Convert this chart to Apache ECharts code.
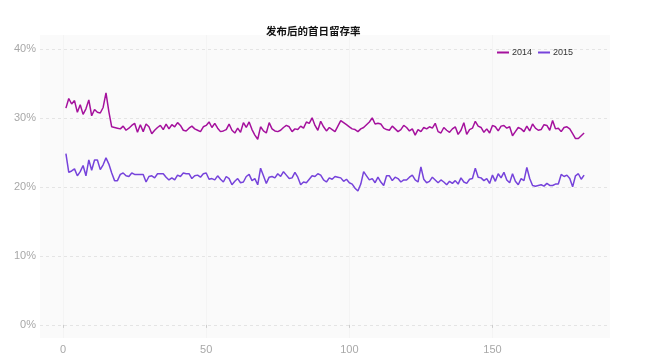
<!DOCTYPE html>
<html><head><meta charset="utf-8">
<script src="https://cdn.jsdelivr.net/npm/echarts@6/dist/echarts.min.js"></script>
<style>html,body{margin:0;padding:0;background:#fff}#c{width:664px;height:364px}</style>
</head><body><div id="c"></div>
<script>
var title = '发布后的首日留存率';
var seriesNames = ['2014', '2015'];
var yTicks = [0, 10, 20, 30, 40];
var xTicks = [0, 50, 100, 150];
var r2014 = [
31.4,32.8,32.0,32.5,30.8,31.9,30.5,31.3,32.6,30.3,
31.2,30.8,30.7,31.5,33.6,30.9,28.7,28.6,28.5,28.4,
28.8,28.2,28.5,28.9,29.2,27.9,29.0,28.0,29.1,28.7,
27.7,28.2,28.6,28.9,28.3,29.1,28.4,29.0,28.7,29.3,
28.9,28.2,28.1,28.5,28.8,28.4,28.2,28.0,28.7,28.9,
29.4,28.6,29.2,28.5,28.0,28.1,28.3,29.1,28.2,27.8,
28.5,27.9,29.3,28.6,29.4,28.3,27.5,26.9,28.7,28.1,
27.8,29.3,28.4,28.1,28.0,28.2,28.6,28.9,28.7,28.0,
28.4,28.3,28.8,28.5,29.4,29.2,30.0,28.9,28.2,29.5,
28.7,28.1,28.6,28.3,28.0,28.8,29.6,29.3,29.0,28.7,
28.4,28.3,28.0,28.4,28.6,29.0,29.4,30.0,29.1,29.2,
29.1,28.5,28.3,28.2,28.8,28.4,28.0,28.3,28.9,28.6,
28.1,28.4,27.5,28.3,28.0,28.6,28.4,28.7,28.5,29.2,
28.0,27.8,28.6,28.2,27.9,28.4,28.7,27.6,28.2,29.3,
27.6,28.3,28.5,29.5,28.8,28.6,27.9,28.4,27.8,28.9,
28.7,28.1,28.8,28.9,28.5,28.7,27.4,28.0,28.6,28.4,
28.0,28.8,28.1,29.1,28.5,28.2,28.3,29.0,28.9,28.2,
29.6,28.4,28.5,28.0,28.6,28.7,28.4,27.7,27.0,27.0,
27.4,27.8
];
var r2015 = [
24.8,22.1,22.3,22.6,21.6,22.2,23.1,21.6,23.9,22.4,
23.9,23.9,22.5,23.2,24.2,23.3,22.0,20.9,20.9,21.8,
22.0,21.6,21.5,22.0,21.8,21.8,21.8,21.8,20.7,21.5,
21.6,21.3,21.9,21.9,21.9,21.4,21.0,21.3,21.0,21.7,
21.5,22.0,21.9,21.9,21.2,21.6,21.7,21.4,21.9,22.0,
21.1,21.2,21.0,21.6,21.1,20.7,21.5,21.2,20.3,20.8,
21.2,20.6,20.7,21.5,21.8,20.9,21.2,20.3,22.7,21.6,
20.5,21.4,21.5,21.3,21.9,21.5,22.2,21.7,21.2,21.3,
22.1,21.4,20.3,20.7,20.6,21.1,21.6,21.5,21.9,21.7,
21.0,20.7,21.3,21.1,21.5,21.4,21.3,20.8,21.1,20.6,
20.4,19.8,19.4,20.4,22.2,21.6,21.0,21.2,20.6,21.4,
20.7,20.2,21.6,21.6,20.9,21.4,21.2,20.7,21.0,21.0,
21.4,21.7,21.0,20.7,22.9,21.1,20.6,20.8,21.4,21.0,
20.6,21.0,20.7,20.3,20.8,20.5,20.9,20.4,21.3,20.7,
20.5,21.1,21.2,22.7,21.4,21.3,20.9,21.2,20.5,21.7,
20.8,21.9,21.3,22.1,21.0,20.6,21.9,20.8,20.3,21.2,
20.9,22.8,21.2,20.2,20.1,20.2,20.3,20.1,20.5,20.2,
20.2,20.4,20.4,21.8,21.5,21.7,21.2,20.0,21.6,21.9,
21.1,21.7
];
function toPairs(arr){ return arr.map(function(v,i){ return [i+1, v]; }); }
var chart = echarts.init(document.getElementById('c'));
var labelColor = '#a8a8a8';
chart.setOption({
  animation: false,
  backgroundColor: '#ffffff',
  title: { text: title, left: 261, top: 21, textStyle: { fontSize: 10.5, fontWeight: 'bold', color: '#111', fontFamily: 'Noto Sans CJK SC' } },
  legend: { data: seriesNames, left: 492, top: 43, itemWidth: 12, itemHeight: 2, itemGap: 6, icon: 'rect',
    textStyle: { fontSize: 9, color: '#333', padding: [0,0,0,-2] } },
  grid: { left: 40, right: 54, top: 35, bottom: 26, show: true, backgroundColor: '#fafafa', borderWidth: 0 },
  xAxis: { type: 'value', min: -8.05, max: 191.05,
    axisLine: { show: false },
    axisTick: { show: true, customValues: xTicks, length: 3, inside: false, lineStyle: { color: '#ccc' } },
    axisLabel: { customValues: xTicks, color: labelColor, fontSize: 11, margin: 6 },
    splitLine: { show: true, lineStyle: { color: '#f4f4f4', width: 1 } }
  },
  yAxis: { type: 'value', min: -1.9, max: 42,
    axisLine: { show: false }, axisTick: { show: false, customValues: yTicks },
    axisLabel: { customValues: yTicks, color: labelColor, fontSize: 11, margin: 4, formatter: function(v){ return v + '%'; } },
    splitLine: { show: true, lineStyle: { color: '#e4e4e4', type: [3,3], width: 1 } }
  },
  series: [
    { name: seriesNames[0], type: 'line', data: toPairs(r2014), showSymbol: false, symbol: 'none', lineStyle: { width: 1.5, color: '#a5119d' }, itemStyle: { color: '#a5119d' } },
    { name: seriesNames[1], type: 'line', data: toPairs(r2015), showSymbol: false, symbol: 'none', lineStyle: { width: 1.5, color: '#7643db' }, itemStyle: { color: '#7643db' } }
  ]
});
</script></body></html>
